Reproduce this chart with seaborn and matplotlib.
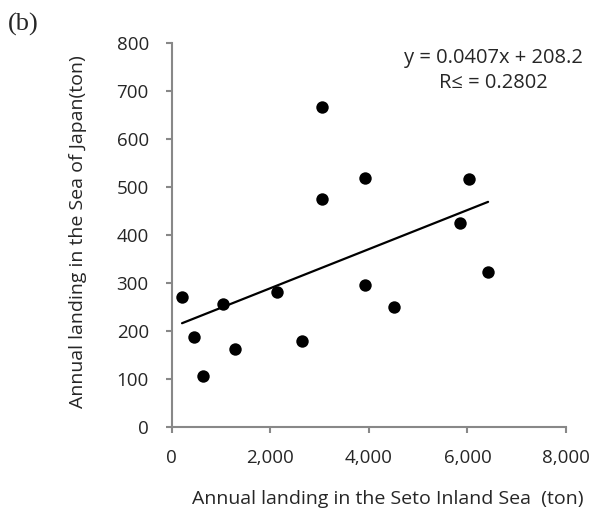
import numpy as np
import pandas as pd
import matplotlib
matplotlib.use("Agg")
import matplotlib.pyplot as plt
import seaborn as sns

# landings (ton)
seto = [210, 461, 631, 1051, 1288, 2142, 2651, 3058, 3051, 3932, 3932, 4508, 5851, 6034, 6419]
japan = [271, 189, 106, 257, 163, 281, 180, 667, 476, 520, 296, 251, 426, 517, 324]

slope = 0.0407
intercept = 208.2

df = pd.DataFrame({'seto': seto, 'japan': japan})

sns.set_style('ticks')
plt.rcParams['font.family'] = ['Open Sans', 'DejaVu Sans']

fig = plt.figure(figsize=(5.93, 5.13), dpi=100)
ax = fig.add_axes([0.2895, 0.167, 0.665, 0.749])

sns.scatterplot(data=df, x='seto', y='japan', color='black', s=80,
                edgecolor='black', linewidth=0, ax=ax, zorder=3)

# trend line over the data range
xfit = np.array([min(seto), max(seto)])
sns.lineplot(x=xfit, y=slope * xfit + intercept, color='black', lw=1.6, ax=ax)

ax.set_xlim(0, 8000)
ax.set_ylim(0, 800)
ax.set_xticks(range(0, 8001, 2000))
ax.set_yticks(range(0, 801, 100))
ax.set_xticklabels([f'{v:,}' for v in range(0, 8001, 2000)])
ax.tick_params(axis='both', labelsize=13.5, color='#888888', width=1.5)
ax.tick_params(axis='x', length=4.5, direction='out', pad=11)
ax.tick_params(axis='y', length=4.5, pad=12)
sns.despine(ax=ax)
for side in ['left', 'bottom']:
    ax.spines[side].set_color('#888888')
    ax.spines[side].set_linewidth(1.5)

ax.set_xlabel('Annual landing in the Seto Inland Sea  (ton)', fontsize=14)
ax.xaxis.set_label_coords(0.549, -0.163)
ax.set_ylabel('Annual landing in the Sea of Japan(ton)', fontsize=14)
ax.yaxis.set_label_coords(-0.215, 0.51)

ax.text(0.817, 0.928, 'y = 0.0407x + 208.2\nR≤ = 0.2802', transform=ax.transAxes,
        ha='center', va='center', fontsize=14.5, linespacing=1.35)

fig.text(0.013, 0.953, '(b)', family='Liberation Serif', fontsize=19, va='center')

fig.savefig('out.png', dpi=100)
